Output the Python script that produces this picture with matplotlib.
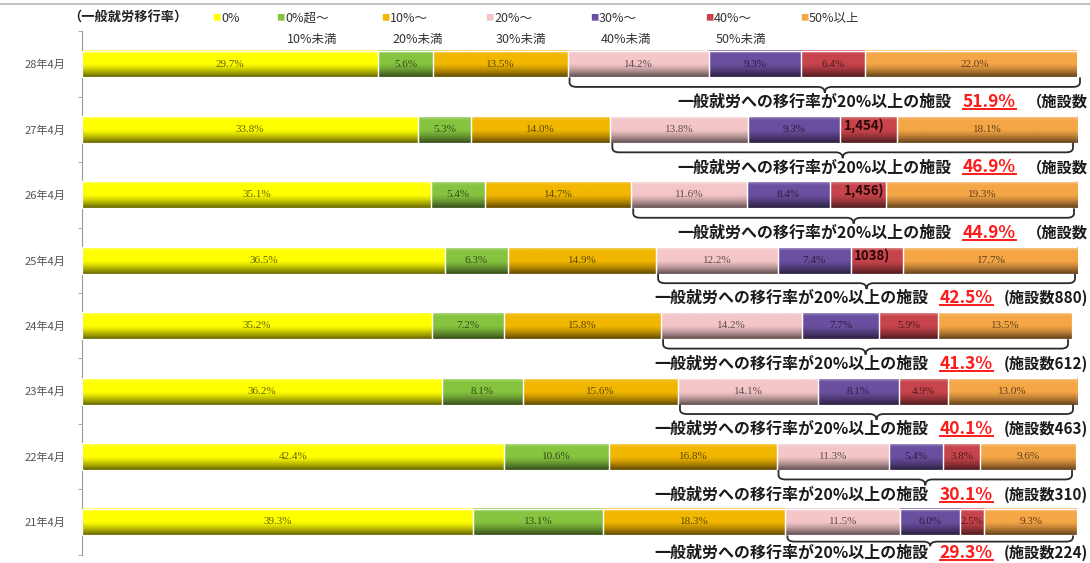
import numpy as np
import matplotlib
matplotlib.use('Agg')
import matplotlib.pyplot as plt
from matplotlib.path import Path
from matplotlib.patches import PathPatch
from matplotlib.offsetbox import TextArea, HPacker, AnnotationBbox
from matplotlib.colors import to_rgb
from matplotlib.lines import Line2D
from matplotlib.transforms import IdentityTransform
from matplotlib import font_manager

plt.rcParams['font.family'] = ['Noto Sans CJK JP', 'DejaVu Sans']

# data
years = ['28年4月', '27年4月', '26年4月', '25年4月', '24年4月', '23年4月', '22年4月', '21年4月']
bands = ['0%', '0%超～\n10%未満', '10%～\n20%未満', '20%～\n30%未満',
         '30%～\n40%未満', '40%～\n50%未満', '50%以上']
rate_0 = [29.7, 33.8, 35.1, 36.5, 35.2, 36.2, 42.4, 39.3]
rate_0_10 = [5.6, 5.3, 5.4, 6.3, 7.2, 8.1, 10.6, 13.1]
rate_10_20 = [13.5, 14.0, 14.7, 14.9, 15.8, 15.6, 16.8, 18.3]
rate_20_30 = [14.2, 13.8, 11.6, 12.2, 14.2, 14.1, 11.3, 11.5]
rate_30_40 = [9.3, 9.3, 8.4, 7.4, 7.7, 8.1, 5.4, 6.0]
rate_40_50 = [6.4, 5.7, 5.6, 5.2, 5.9, 4.9, 3.8, 2.5]
rate_50_up = [22.0, 18.1, 19.3, 17.7, 13.5, 13.0, 9.6, 9.3]
over20_share = ['51.9%', '46.9%', '44.9%', '42.5%', '41.3%', '40.1%', '30.1%', '29.3%']
facility_counts = ['1,454', '1,456', '1038', '880', '612', '463', '310', '224']

series = [rate_0, rate_0_10, rate_10_20, rate_20_30, rate_30_40, rate_40_50, rate_50_up]
colors = ['#FFFF00', '#86C440', '#F2B700', '#F4C6C8', '#6A4FA0', '#C8444C', '#F5A646']

# narrow font for the red percentages if available
names = {f.name for f in font_manager.fontManager.ttflist}
pct_family = ['Liberation Sans Narrow', 'DejaVu Sans'] if 'Liberation Sans Narrow' in names \
    else ['Noto Sans CJK JP', 'DejaVu Sans']
pct_size = 15 if 'Liberation Sans Narrow' in names else 12.5

W, H = 1090, 563
fig = plt.figure(figsize=(W / 100, H / 100), dpi=100)
ax = fig.add_axes([82 / W, 1 - 554.7 / H, (1077 - 82) / W, (554.7 - 31.3) / H])

y = np.arange(len(years))
bar_h = 0.41


def gradient(col, n=40):
    rgb = np.array(to_rgb(col))
    t = np.linspace(0, 1, n)
    shade = np.where(t < 0.5, 1.0, 1 - 0.6 * ((t - 0.5) / 0.5) ** 1.3)
    arr = rgb[None, :] * shade[:, None]
    light = np.clip(0.3 * (1 - t / 0.15), 0, None)
    arr = arr + (1 - arr) * light[:, None]
    return arr[:, None, :]


left = np.zeros(len(years))
for k, (vals, col) in enumerate(zip(series, colors)):
    vals = np.array(vals)
    bars = ax.barh(y, vals, left=left, height=bar_h, facecolor='none',
                   edgecolor='white', linewidth=0.9, zorder=3)
    img = gradient(col)
    dark = tuple(np.array(to_rgb(col)) * 0.38)
    for j, (rect, v) in enumerate(zip(bars, vals)):
        x0, y0 = rect.get_x(), rect.get_y()
        w, h = rect.get_width(), rect.get_height()
        ax.imshow(img, extent=(x0, x0 + w, y0, y0 + h), origin='lower',
                  aspect='auto', interpolation='bilinear', zorder=2)
        # 40-50% labels of rows 2-4 are hidden under the facility-count text
        if k == 5 and 1 <= j <= 3:
            continue
        ax.text(x0 + w / 2, y0 + h / 2, f'{v:.1f}%', ha='center', va='center',
                fontsize=8, color=dark, family='Liberation Serif', zorder=5)
    left += vals

# braces under the "20% and above" part of each bar
start20 = np.array(rate_0) + np.array(rate_0_10) + np.array(rate_10_20)
rx, ry = 0.7, 0.07
red_boxes = []
for i in range(len(years)):
    last = i == len(years) - 1
    off_h, off_t, off_txt = (0.30, 0.37, 0.47) if last else (0.35, 0.44, 0.58)
    xl, xr = start20[i] + 0.2, left[i] - 0.4
    xc = (xl + xr) / 2
    yb, yh, yt = y[i] + bar_h / 2, y[i] + off_h, y[i] + off_t
    verts = [(xl, yb), (xl, yh - ry), (xl, yh), (xl + rx, yh),
             (xc - rx, yh), (xc, yh), (xc, yt),
             (xc, yh), (xc + rx, yh),
             (xr - rx, yh), (xr, yh), (xr, yh - ry), (xr, yb)]
    codes = [Path.MOVETO, Path.LINETO, Path.CURVE3, Path.CURVE3,
             Path.LINETO, Path.CURVE3, Path.CURVE3,
             Path.CURVE3, Path.CURVE3,
             Path.LINETO, Path.CURVE3, Path.CURVE3, Path.LINETO]
    ax.add_patch(PathPatch(Path(verts, codes), facecolor='none', edgecolor='#2b2b2b',
                           lw=1.3, clip_on=False, zorder=4))

    if i < 3:
        suffix = '（施設数'
        ax.text(76.6 if i < 2 else 77.6, y[i + 1] - 0.06, f'{facility_counts[i]})',
                fontsize=9.5, fontweight='bold', color='#2a0808', va='center', zorder=6)
    else:
        suffix = f'(施設数{facility_counts[i]})'
    t1 = TextArea('一般就労への移行率が20%以上の施設',
                  textprops=dict(fontsize=11.5, fontweight='bold', color='#1a1a1a'))
    t2 = TextArea(over20_share[i], textprops=dict(fontsize=pct_size, fontweight='bold',
                                                  color='#FF1A1A', family=pct_family))
    t3 = TextArea(suffix, textprops=dict(fontsize=11, fontweight='bold', color='#1a1a1a'))
    pack = HPacker(children=[t1, t2, t3], align='baseline', pad=0, sep=8)
    ab = AnnotationBbox(pack, (1088 / W, y[i] + off_txt), xycoords=('figure fraction', 'data'),
                        box_alignment=(1, 0.5), frameon=False, pad=0, annotation_clip=False)
    ab.set_zorder(6)
    ax.add_artist(ab)
    red_boxes.append(t2)

ax.set_xlim(0, 100)
ax.set_ylim(len(years) - 0.5, -0.5)
ax.set_yticks(y)
ax.set_yticklabels(years, fontsize=8, color='#555555')
ax.set_yticks(np.arange(len(years) + 1) - 0.5, minor=True)
ax.tick_params(axis='y', which='major', length=0, pad=12)
ax.tick_params(axis='y', which='minor', length=3, color='#9a9a9a')
ax.set_xticks([])
for s in ['top', 'right', 'bottom']:
    ax.spines[s].set_visible(False)
ax.spines['left'].set_color('#9a9a9a')

# legend
fig.text(68 / W, 1 - 18 / H, '（一般就労移行率）', fontsize=9.5, fontweight='bold',
         color='#222222', va='center')
marker_x = [212, 276, 381, 485, 590, 705, 800]
for mx, lab, col in zip(marker_x, bands, colors):
    fig.text(mx / W, 1 - 18 / H, '■', fontsize=6, color=col, va='center')
    lines = lab.split('\n')
    fig.text((mx + 9) / W, 1 - 18 / H, lines[0], fontsize=9, color='#333333', va='center')
    if len(lines) > 1:
        fig.text((mx + 11) / W, 1 - 40 / H, lines[1], fontsize=9, color='#333333', va='center')

# screenshot border line at top
fig.add_artist(Line2D([0, 1], [1 - 4 / H, 1 - 4 / H], color='#c4c4c4', lw=1.5))

# underline the red percentages
fig.canvas.draw()
renderer = fig.canvas.get_renderer()
for t2 in red_boxes:
    bb = t2._text.get_window_extent(renderer)
    fig.add_artist(Line2D([bb.x0, bb.x1], [bb.y0 + 2, bb.y0 + 2], color='#FF1A1A', lw=1.4,
                          transform=IdentityTransform()))

fig.savefig('out.png', dpi=100)
